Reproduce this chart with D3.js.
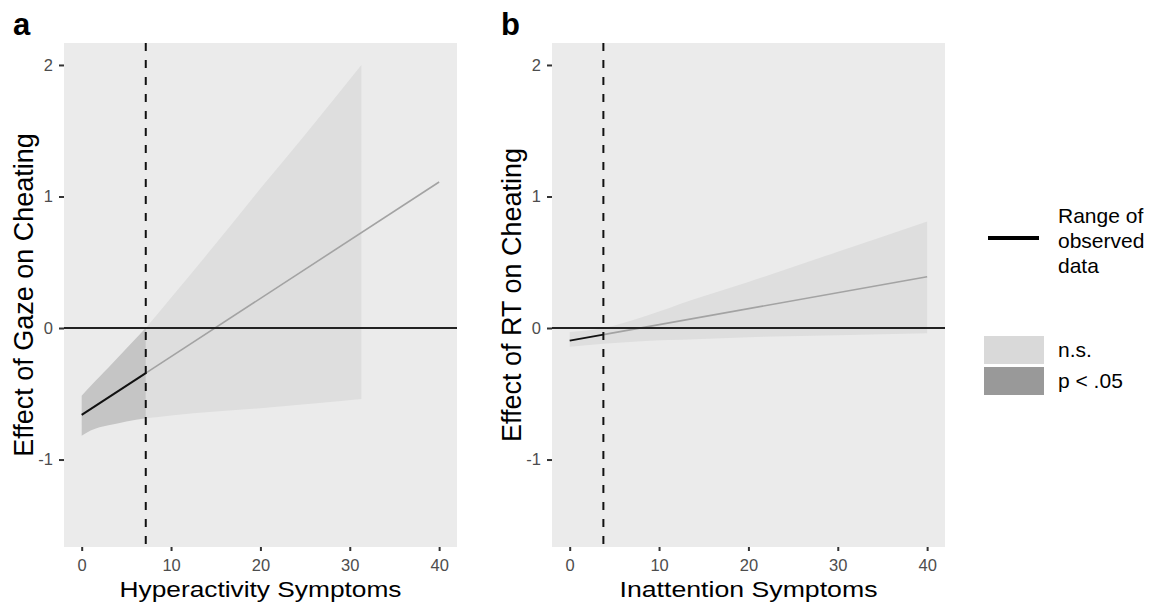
<!DOCTYPE html>
<html>
<head>
<meta charset="utf-8">
<script src="https://cdn.jsdelivr.net/npm/d3@7"></script>
<style>
  body { margin: 0; background: #fff; }
  text { font-family: "Liberation Sans", Arial, sans-serif; }
</style>
</head>
<body>
<div id="chart"></div>
<script>
// ---- data ----
const xTicks = [0, 10, 20, 30, 40];
const yTicks = [-1, 0, 1, 2];

// panel a: gaze x hyperactivity
const gazeLineX = [0, 40];
const gazeLineY = [-0.66, 1.11];
const gazeCut = 7.17; // edge of observed data / significance
const gazeBandX = [0, 1, 2, 3, 5, 7.17, 10, 15, 20, 25, 31.3];
const gazeBandUpper = [-0.515, -0.44, -0.37, -0.3, -0.155, 0, 0.23, 0.64, 1.06, 1.47, 2.0];
const gazeBandLower = [-0.82, -0.78, -0.755, -0.74, -0.71, -0.687, -0.665, -0.635, -0.61, -0.58, -0.54];

// panel b: RT x inattention
const rtLineX = [0, 40];
const rtLineY = [-0.096, 0.39];
const rtCut = 3.77;
const rtBandX = [0, 3.77, 8, 14, 20, 30, 40];
const rtBandUpper = [-0.03, 0.0, 0.08, 0.22, 0.35, 0.58, 0.81];
const rtBandLower = [-0.142, -0.12, -0.1, -0.085, -0.07, -0.055, -0.04];

const panels = [
  { tag: "a", left: 64, xTitle: "Hyperactivity Symptoms", xTitleLen: 282, yTitle: "Effect of Gaze on Cheating",
    lineX: gazeLineX, lineY: gazeLineY, cut: gazeCut,
    bandX: gazeBandX, bandU: gazeBandUpper, bandL: gazeBandLower, sigLeft: true },
  { tag: "b", left: 552, xTitle: "Inattention Symptoms", xTitleLen: 258, yTitle: "Effect of RT on Cheating",
    lineX: rtLineX, lineY: rtLineY, cut: rtCut,
    bandX: rtBandX, bandU: rtBandUpper, bandL: rtBandLower, sigLeft: false }
];

const width = 1153, height = 603;
const plotTop = 43, plotBottom = 547, pw = 393;

const svg = d3.select("#chart").append("svg")
  .attr("width", width).attr("height", height);

panels.forEach((p) => {
  const x = d3.scaleLinear().domain([-1.98, 42]).range([p.left, p.left + pw]);
  const y = d3.scaleLinear().domain([-1.665, 2.167]).range([plotBottom, plotTop]);

  const g = svg.append("g");

  g.append("rect")
    .attr("x", p.left).attr("y", plotTop)
    .attr("width", pw).attr("height", plotBottom - plotTop)
    .attr("fill", "#ebebeb");

  const band = p.bandX.map((v, i) => ({ x: v, u: p.bandU[i], l: p.bandL[i] }));
  const area = d3.area()
    .x((d) => x(d.x)).y0((d) => y(d.l)).y1((d) => y(d.u))
    .curve(d3.curveMonotoneX);

  const sig = band.filter((d) => d.x <= p.cut);
  const ns = band.filter((d) => d.x >= p.cut);
  g.append("path").attr("d", area(p.sigLeft ? ns : band)).attr("fill", "#dedede");
  if (p.sigLeft) g.append("path").attr("d", area(sig)).attr("fill", "#c5c5c5");

  // effect line: grey everywhere, black over observed range
  const slope = (p.lineY[1] - p.lineY[0]) / (p.lineX[1] - p.lineX[0]);
  const at = (v) => p.lineY[0] + slope * (v - p.lineX[0]);
  g.append("line")
    .attr("x1", x(p.cut)).attr("y1", y(at(p.cut)))
    .attr("x2", x(p.lineX[1])).attr("y2", y(p.lineY[1]))
    .attr("stroke", "#a3a3a3").attr("stroke-width", 1.6);
  g.append("line")
    .attr("x1", x(p.lineX[0])).attr("y1", y(p.lineY[0]))
    .attr("x2", x(p.cut)).attr("y2", y(at(p.cut)))
    .attr("stroke", "#111").attr("stroke-width", 2);

  // zero line
  g.append("line")
    .attr("x1", p.left).attr("x2", p.left + pw)
    .attr("y1", y(0)).attr("y2", y(0))
    .attr("stroke", "#222").attr("stroke-width", 2);

  // cut-off dashed line
  g.append("line")
    .attr("x1", x(p.cut)).attr("x2", x(p.cut))
    .attr("y1", plotTop).attr("y2", plotBottom)
    .attr("stroke", "#111").attr("stroke-width", 2)
    .attr("stroke-dasharray", "8,9");

  // axes
  const xAxis = g.append("g").attr("transform", `translate(0,${plotBottom})`)
    .call(d3.axisBottom(x).tickValues(xTicks).tickFormat((d) => String(d))
      .tickSize(4).tickPadding(8));
  const yAxis = g.append("g").attr("transform", `translate(${p.left},0)`)
    .call(d3.axisLeft(y).tickValues(yTicks).tickFormat((d) => String(d))
      .tickSize(5).tickPadding(6));
  [xAxis, yAxis].forEach((ax) => {
    ax.select(".domain").remove();
    ax.selectAll(".tick line").attr("stroke", "#333").attr("stroke-width", 2);
    ax.selectAll(".tick text").attr("fill", "#4d4d4d").attr("font-size", 16.5)
      .attr("font-family", "Liberation Sans, Arial, sans-serif");
  });

  g.append("text")
    .attr("x", p.left + pw / 2).attr("y", 597)
    .attr("text-anchor", "middle").attr("font-size", 22.5)
    .attr("textLength", p.xTitleLen).attr("lengthAdjust", "spacingAndGlyphs")
    .text(p.xTitle);

  g.append("text")
    .attr("transform", `translate(${p.left - 31},${(plotTop + plotBottom) / 2}) rotate(-90)`)
    .attr("text-anchor", "middle").attr("font-size", 27)
    .text(p.yTitle);

  g.append("text")
    .attr("x", p.left - 51).attr("y", 35)
    .attr("font-size", 31).attr("font-weight", "bold")
    .text(p.tag);
});

// legend
const legend = svg.append("g");
legend.append("line")
  .attr("x1", 988).attr("x2", 1039).attr("y1", 238).attr("y2", 238)
  .attr("stroke", "#000").attr("stroke-width", 4);
["Range of", "observed", "data"].forEach((t, i) => {
  legend.append("text").attr("x", 1058).attr("y", 223 + i * 25)
    .attr("font-size", 21).text(t);
});
const fills = [
  { label: "n.s.", color: "#d9d9d9" },
  { label: "p < .05", color: "#999999" }
];
fills.forEach((f, i) => {
  legend.append("rect").attr("x", 984).attr("y", 336 + i * 31)
    .attr("width", 60).attr("height", 28).attr("fill", f.color);
  legend.append("text").attr("x", 1058).attr("y", 357 + i * 31)
    .attr("font-size", 21).text(f.label);
});
</script>
</body>
</html>
